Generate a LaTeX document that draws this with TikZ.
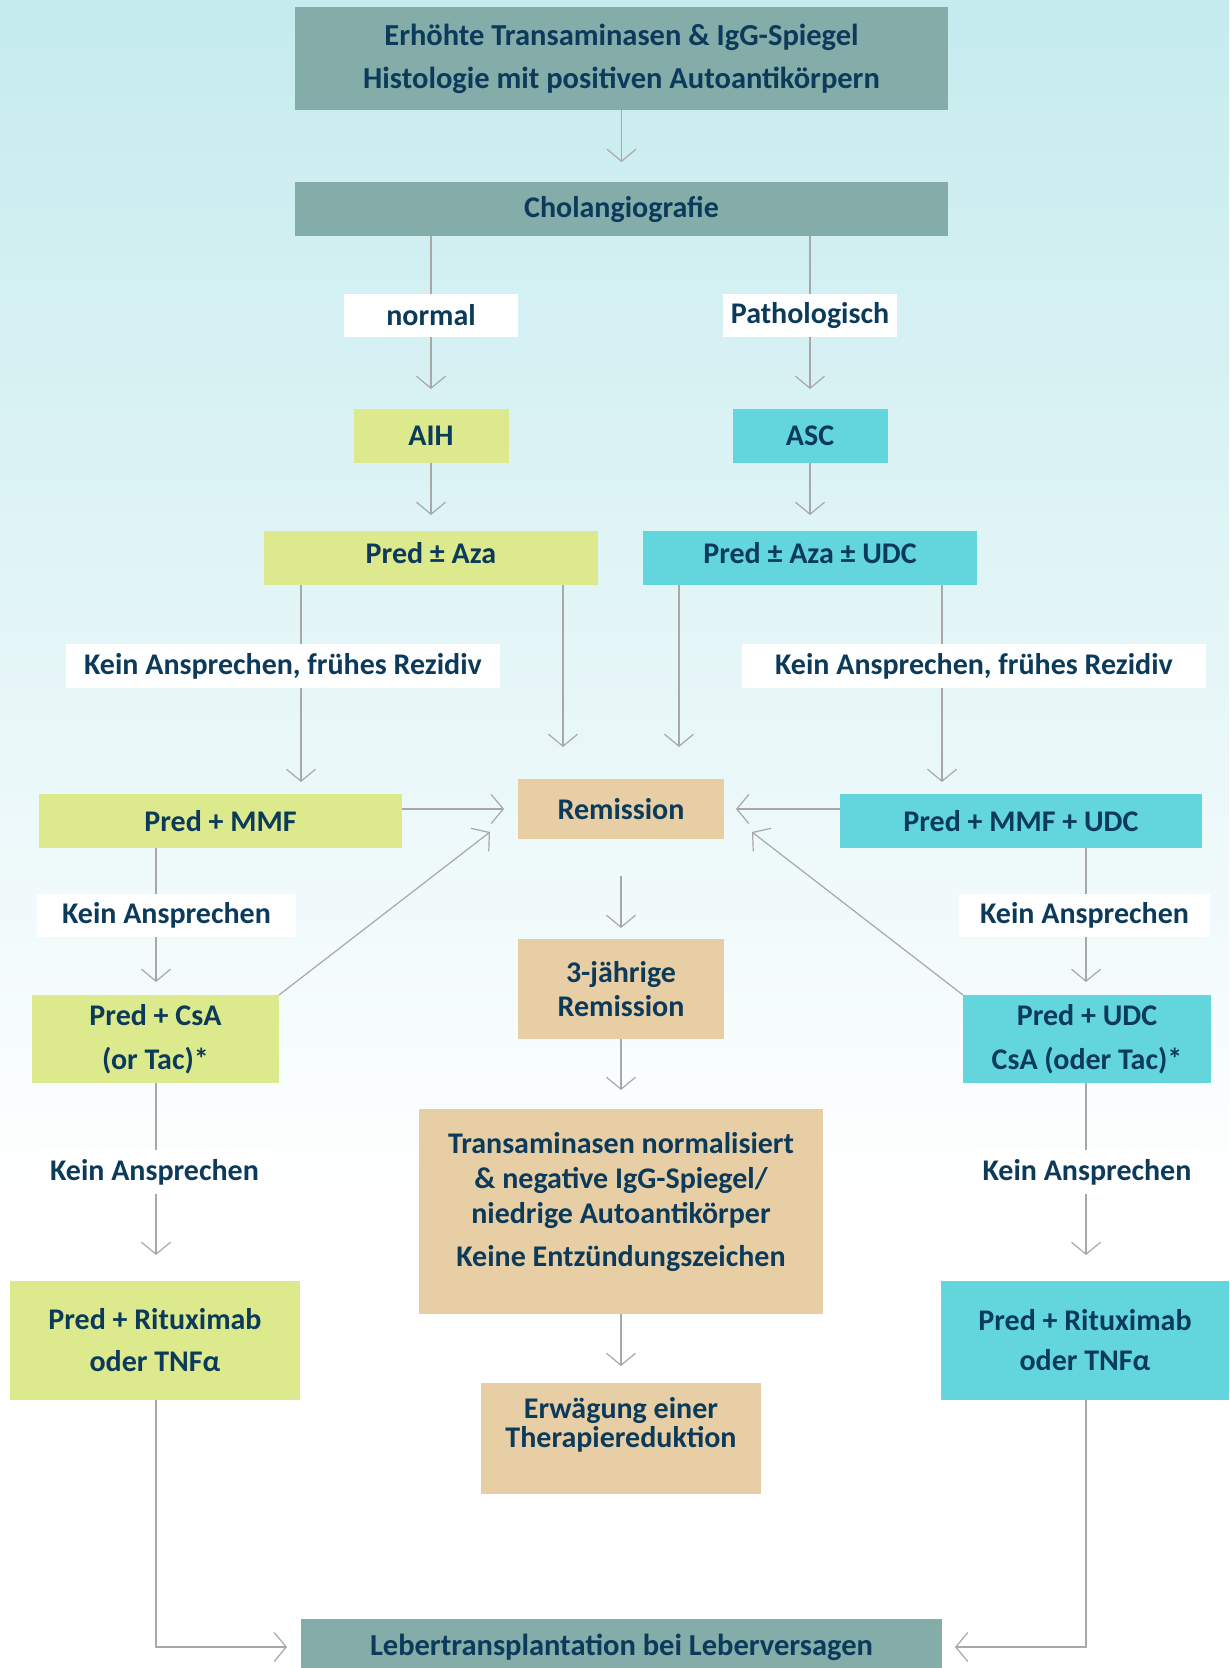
\documentclass[tikz,border=0pt]{standalone}
\usepackage{fontspec}
\setmainfont{Carlito}
\usetikzlibrary{arrows.meta}
\definecolor{bgtop}{HTML}{C5EBEE}
\definecolor{tealbox}{HTML}{84ACA9}
\definecolor{grn}{HTML}{DDE98D}
\definecolor{cyn}{HTML}{63D6DD}
\definecolor{boxtan}{HTML}{E7CEA5}
\definecolor{txt}{HTML}{0B3A5B}
\definecolor{lgray}{HTML}{A8A8A8}
\begin{document}
\begin{tikzpicture}[x=1pt,y=-1pt,
 box/.style={inner sep=0pt, outer sep=0pt, align=center, text=txt, font=\bfseries\fontsize{30}{36}\selectfont},
 lbl/.style={box, fill=white},
 ln/.style={draw=lgray, line width=1.2pt},
 arr/.style={ln, -{Straight Barb[length=12pt,width=29pt,line width=1.2pt]}},
]
\useasboundingbox (0,0) rectangle (1229,1668);
\shade[top color=bgtop, bottom color=white] (0,0) rectangle (1229,1200);
\fill[white] (0,1200) rectangle (1229,1668);

% boxes
\node[box, fill=tealbox, minimum width=653pt, minimum height=103pt, font=\bfseries\fontsize{30.5}{36}\selectfont] (top) at (621.5,58.5) {Erhöhte Transaminasen \& IgG-Spiegel\\[7pt]Histologie mit positiven Autoantikörpern};
\node[box, fill=tealbox, minimum width=653pt, minimum height=54pt] (chol) at (621.5,209) {Cholangiografie};
\node[lbl, minimum width=174pt, minimum height=43pt] (normal) at (431,315.5) {normal};
\node[lbl, minimum width=174pt, minimum height=43pt] (patho) at (810,315.5) {Pathologisch};
\node[box, fill=grn, minimum width=155pt, minimum height=54pt] (aih) at (431,436) {AIH};
\node[box, fill=cyn, minimum width=155pt, minimum height=54pt] (asc) at (810,436) {ASC};
\node[box, fill=grn, minimum width=334pt, minimum height=54pt, text depth=10pt] (paza) at (431,558) {Pred ± Aza};
\node[box, fill=cyn, minimum width=334pt, minimum height=54pt, text depth=10pt] (pazau) at (810,558) {Pred ± Aza ± UDC};
\node[lbl, minimum width=434pt, minimum height=44pt] (k1l) at (283,666) {Kein Ansprechen, frühes Rezidiv};
\node[lbl, minimum width=464pt, minimum height=44pt] (k1r) at (974,666) {Kein Ansprechen, frühes Rezidiv};
\node[box, fill=boxtan, minimum width=206pt, minimum height=60pt] (rem) at (621,809) {Remission};
\node[box, fill=grn, minimum width=363pt, minimum height=54pt] (mmf) at (220.5,821) {Pred + MMF};
\node[box, fill=cyn, minimum width=362pt, minimum height=54pt] (mmfu) at (1021,821) {Pred + MMF + UDC};
\node[lbl, minimum width=259pt, minimum height=43pt] (k2l) at (166.5,915.5) {Kein Ansprechen};
\node[lbl, minimum width=251pt, minimum height=43pt] (k2r) at (1084.5,915.5) {Kein Ansprechen};
\node[box, fill=boxtan, minimum width=206pt, minimum height=100pt] (rem3) at (621,989) {3-jährige\\[-2pt]Remission};
\node[box, fill=grn, minimum width=247pt, minimum height=88pt] (csal) at (155.5,1039) {Pred + CsA\\[8pt](or Tac)*};
\node[box, fill=cyn, minimum width=248pt, minimum height=88pt] (csar) at (1087,1039) {Pred + UDC\\[8pt]CsA (oder Tac)*};
\node[lbl, minimum width=223pt, minimum height=44pt] (k3l) at (154.5,1172) {Kein Ansprechen};
\node[lbl, minimum width=224pt, minimum height=44pt] (k3r) at (1087,1172) {Kein Ansprechen};
\node[box, fill=boxtan, minimum width=404pt, minimum height=205pt] (trans) at (621,1211.5) {};
\node[box] (transT) at (621,1202) {Transaminasen normalisiert\\[-1pt]\& negative IgG-Spiegel/\\[-1pt]niedrige Autoantikörper\\[7pt]Keine Entzündungszeichen};
\node[box, fill=grn, minimum width=290pt, minimum height=119pt] (ritl) at (155,1340.5) {Pred + Rituximab\\[6pt]oder TNFα};
\node[box, fill=cyn, minimum width=288pt, minimum height=119pt] (ritr) at (1085,1340.5) {Pred + Rituximab\\[4pt]oder TNFα};
\node[box, fill=boxtan, minimum width=280pt, minimum height=111pt] (erw) at (621,1438.5) {};
\node[box] (erwT) at (621,1425) {Erwägung einer\\[-7pt]Therapiereduktion};
\node[box, fill=tealbox, minimum width=641pt, minimum height=56pt, font=\bfseries\fontsize{30.5}{36}\selectfont] (leb) at (621.5,1647) {Lebertransplantation bei Leberversagen};

% helper coordinates
\coordinate (xA) at (301,0);
\coordinate (xB) at (563,0);
\coordinate (xC) at (679,0);
\coordinate (xD) at (942,0);
\coordinate (xE) at (156,0);
\coordinate (xF) at (1086,0);
\coordinate (yL) at (0,1647);
\coordinate (tipL) at (490,832);
\coordinate (tipR) at (752,832);

% connectors
\draw[arr, shorten >=20pt] (top) -- (chol);
\draw[ln] (chol.south -| normal) -- (normal.north);
\draw[arr, shorten >=20pt] (normal) -- (aih);
\draw[ln] (chol.south -| patho) -- (patho.north);
\draw[arr, shorten >=20pt] (patho) -- (asc);
\draw[arr, shorten >=16pt] (aih) -- (paza);
\draw[arr, shorten >=16pt] (asc) -- (pazau);
\draw[ln] (paza.south -| xA) -- (k1l.north -| xA);
\draw[arr, shorten >=12pt] (k1l.south -| xA) -- (mmf.north -| xA);
\draw[arr, shorten >=32pt] (paza.south -| xB) -- (rem.north -| xB);
\draw[arr, shorten >=32pt] (pazau.south -| xC) -- (rem.north -| xC);
\draw[ln] (pazau.south -| xD) -- (k1r.north -| xD);
\draw[arr, shorten >=12pt] (k1r.south -| xD) -- (mmfu.north -| xD);
\draw[arr, shorten >=14pt] (mmf.east |- rem) -- (rem.west);
\draw[arr, shorten >=12pt] (mmfu.west |- rem) -- (rem.east);
\draw[arr] (csal.north east) -- (tipL);
\draw[arr] (csar.north west) -- (tipR);
\draw[ln] (mmf.south -| xE) -- (k2l.north -| xE);
\draw[arr, shorten >=13pt] (k2l.south -| xE) -- (csal.north -| xE);
\draw[ln] (mmfu.south -| xF) -- (k2r.north -| xF);
\draw[arr, shorten >=13pt] (k2r.south -| xF) -- (csar.north -| xF);
\draw[arr, shorten <=37pt, shorten >=11pt] (rem) -- (rem3);
\draw[arr, shorten >=19pt] (rem3) -- (trans);
\draw[arr, shorten >=17pt] (trans) -- (erw);
\draw[ln] (csal.south -| xE) -- (k3l.north -| xE);
\draw[arr, shorten >=26pt] (k3l.south -| xE) -- (ritl.north -| xE);
\draw[ln] (csar.south -| xF) -- (k3r.north -| xF);
\draw[arr, shorten >=26pt] (k3r.south -| xF) -- (ritr.north -| xF);
\draw[arr, shorten >=14pt] (ritl.south -| xE) -- (xE |- yL) -- (leb.west |- yL);
\draw[arr, shorten >=13pt] (ritr.south -| xF) -- (xF |- yL) -- (leb.east |- yL);
\end{tikzpicture}
\end{document}
